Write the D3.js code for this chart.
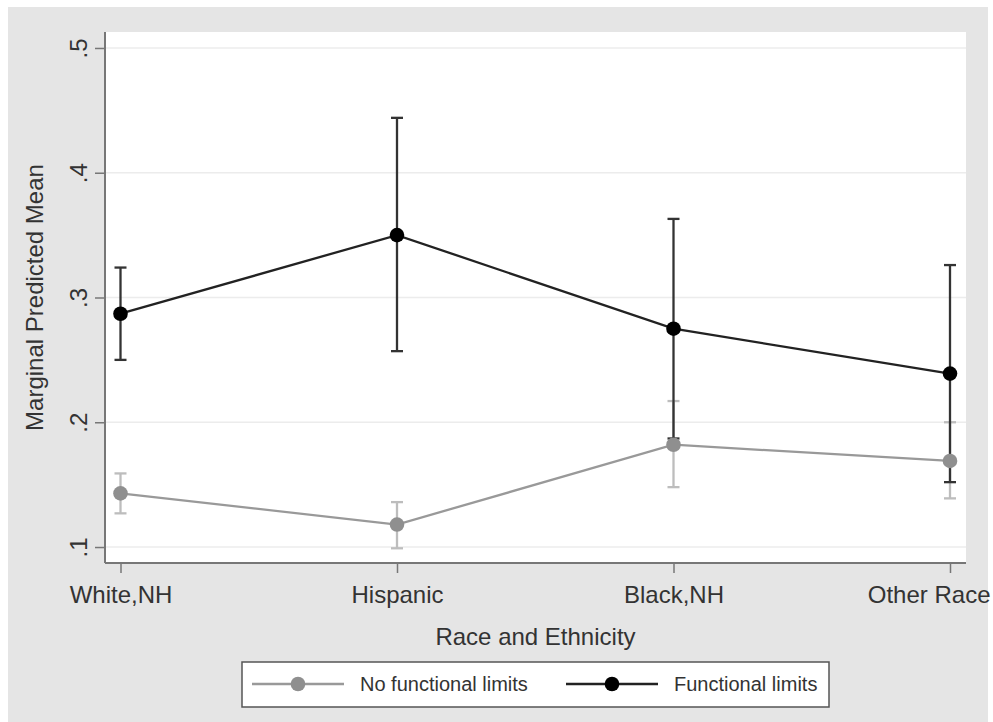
<!DOCTYPE html>
<meta charset="utf-8">
<style>
  body { margin: 0; background: #fff; }
  svg { display: block; font-family: "Liberation Sans", Arial, sans-serif; }
  .axis text { fill: #333; }
</style>
<svg width="993" height="722"></svg>
<script src="https://cdn.jsdelivr.net/npm/d3@7"></script>
<script>
// data
var categories = ["White,NH", "Hispanic", "Black,NH", "Other Race"];
var noLimitsMean = [0.143, 0.118, 0.182, 0.169];
var noLimitsLo   = [0.127, 0.099, 0.148, 0.139];
var noLimitsHi   = [0.159, 0.136, 0.217, 0.200];
var limitsMean   = [0.287, 0.350, 0.275, 0.239];
var limitsLo     = [0.250, 0.257, 0.187, 0.152];
var limitsHi     = [0.324, 0.444, 0.363, 0.326];
var yTicks = [0.1, 0.2, 0.3, 0.4, 0.5];
var seriesNames = ["No functional limits", "Functional limits"];

var svg = d3.select("svg");

// plot region
var plot = {left: 105, right: 966, top: 32, bottom: 563};

// outer grey frame
svg.append("rect")
    .attr("x", 8).attr("y", 7)
    .attr("width", 980).attr("height", 715)
    .attr("fill", "#e5e5e5");

svg.append("rect")
    .attr("x", plot.left).attr("y", plot.top)
    .attr("width", plot.right - plot.left).attr("height", plot.bottom - plot.top)
    .attr("fill", "#fff");

var x = d3.scalePoint().domain(categories).range([120.5, 950]);
var y = d3.scaleLinear().domain([0.0872, 0.5128]).range([plot.bottom, plot.top]);

var fmt = function(d) { return d3.format(".1f")(d).replace(/^0/, ""); };

// grid lines
svg.append("g")
  .selectAll("line")
  .data(yTicks)
  .enter().append("line")
    .attr("x1", plot.left).attr("x2", plot.right)
    .attr("y1", function(d) { return y(d); })
    .attr("y2", function(d) { return y(d); })
    .attr("stroke", "#ececec")
    .attr("stroke-width", 1.5);

// y axis
var yAxis = svg.append("g")
    .attr("class", "axis")
    .attr("transform", "translate(" + plot.left + ",0)")
    .call(d3.axisLeft(y).tickValues(yTicks).tickFormat(fmt).tickSize(10).tickPadding(7).tickSizeOuter(0));
yAxis.select(".domain").attr("stroke", "#777").attr("stroke-width", 2)
    .attr("d", "M0," + plot.top + "V" + plot.bottom);
yAxis.selectAll(".tick line").attr("stroke", "#777").attr("stroke-width", 1.5);
yAxis.selectAll(".tick text")
    .attr("font-size", 24)
    .attr("text-anchor", "middle")
    .attr("dy", 0)
    .attr("x", 0)
    .attr("transform", "translate(-18,0) rotate(-90)");

// x axis
var xAxis = svg.append("g")
    .attr("class", "axis")
    .attr("transform", "translate(0," + plot.bottom + ")")
    .call(d3.axisBottom(x).tickSize(10).tickPadding(8).tickSizeOuter(0));
xAxis.select(".domain").attr("stroke", "#777").attr("stroke-width", 2)
    .attr("d", "M" + plot.left + ",0H" + plot.right);
xAxis.selectAll(".tick line").attr("stroke", "#777").attr("stroke-width", 1.5);
xAxis.selectAll(".tick text")
    .attr("font-size", 24)
    .attr("dy", 0)
    .attr("y", 40)
    .each(function(d) {
      // keep the last label inside the frame
      var w = this.getComputedTextLength();
      var cx = x(d);
      if (cx + w / 2 > 990) d3.select(this).attr("dx", 990 - w / 2 - cx);
    });

// axis titles
svg.append("text")
    .attr("x", (plot.left + plot.right) / 2).attr("y", 645)
    .attr("text-anchor", "middle")
    .attr("font-size", 24).attr("fill", "#333")
    .text("Race and Ethnicity");

svg.append("text")
    .attr("transform", "translate(43," + (plot.top + plot.bottom) / 2 + ") rotate(-90)")
    .attr("text-anchor", "middle")
    .attr("font-size", 24).attr("fill", "#333")
    .text("Marginal Predicted Mean");

// series
var series = [
  {name: seriesNames[0], mean: noLimitsMean, lo: noLimitsLo, hi: noLimitsHi,
   line: "#999", marker: "#8f8f8f", ci: "#bdbdbd"},
  {name: seriesNames[1], mean: limitsMean, lo: limitsLo, hi: limitsHi,
   line: "#222", marker: "#000", ci: "#333"}
];

var capW = 6;

// confidence intervals first
series.forEach(function(s) {
  var g = svg.append("g").attr("stroke", s.ci).attr("stroke-width", 2.3).attr("fill", "none");
  categories.forEach(function(c, i) {
    g.append("line").attr("x1", x(c)).attr("x2", x(c)).attr("y1", y(s.lo[i])).attr("y2", y(s.hi[i]));
    g.append("line").attr("x1", x(c) - capW).attr("x2", x(c) + capW).attr("y1", y(s.lo[i])).attr("y2", y(s.lo[i]));
    g.append("line").attr("x1", x(c) - capW).attr("x2", x(c) + capW).attr("y1", y(s.hi[i])).attr("y2", y(s.hi[i]));
  });
});

// lines and markers
var line = d3.line()
    .x(function(d) { return x(d.c); })
    .y(function(d) { return y(d.v); });

series.forEach(function(s) {
  var pts = categories.map(function(c, i) { return {c: c, v: s.mean[i]}; });
  svg.append("path")
      .datum(pts)
      .attr("d", line)
      .attr("fill", "none")
      .attr("stroke", s.line)
      .attr("stroke-width", 2.3);
  svg.append("g")
    .selectAll("circle")
    .data(pts)
    .enter().append("circle")
      .attr("cx", function(d) { return x(d.c); })
      .attr("cy", function(d) { return y(d.v); })
      .attr("r", 7.3)
      .attr("fill", s.marker);
});

// legend
var legend = svg.append("g");
legend.append("rect")
    .attr("x", 242).attr("y", 662)
    .attr("width", 587).attr("height", 45)
    .attr("fill", "#fff").attr("stroke", "#555").attr("stroke-width", 1.5);

var legendX = [252, 566];
var item = legend.selectAll(".item")
    .data(series)
    .enter().append("g")
      .attr("class", "item")
      .attr("transform", function(d, i) { return "translate(" + legendX[i] + ",684)"; });
item.append("line")
    .attr("x1", 0).attr("x2", 92)
    .attr("stroke", function(d) { return d.line; })
    .attr("stroke-width", 2.3);
item.append("circle")
    .attr("cx", 46).attr("r", 7.3)
    .attr("fill", function(d) { return d.marker; });
item.append("text")
    .attr("x", 108).attr("y", 7)
    .attr("font-size", 20).attr("fill", "#333")
    .text(function(d) { return d.name; });
</script>
